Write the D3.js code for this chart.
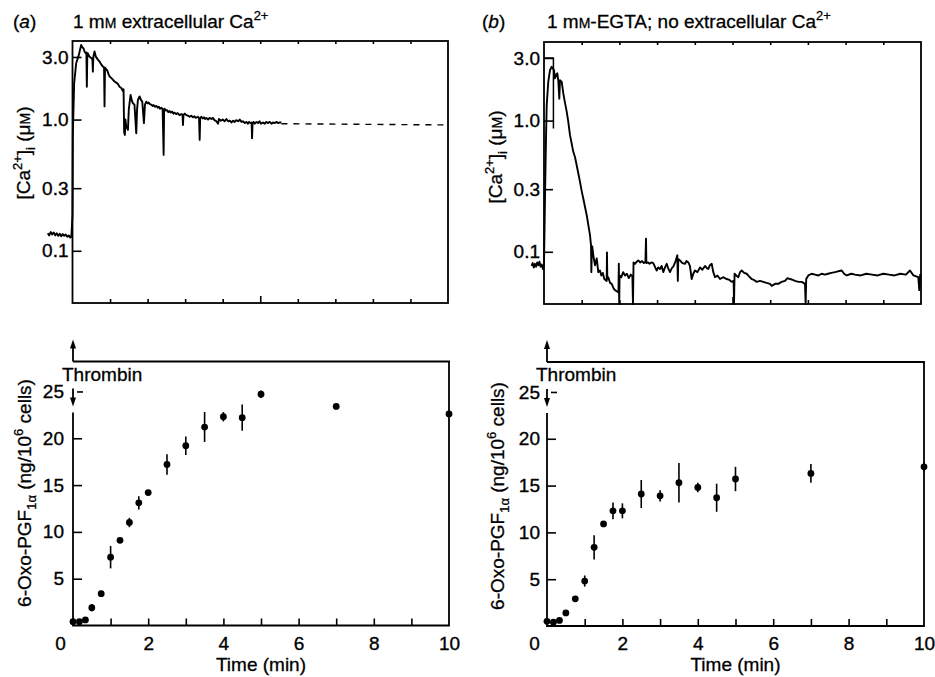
<!DOCTYPE html>
<html>
<head>
<meta charset="utf-8">
<title>Thrombin: [Ca2+]i and 6-oxo-PGF1a</title>
<script src="https://cdn.jsdelivr.net/npm/d3@7"></script>
<style>
  body { margin: 0; background: #fff; }
  svg { font-family: "Liberation Sans", Arial, Helvetica, sans-serif; }
  .frame { fill: none; stroke: #000; stroke-width: 1.8; }
  .axis text { font-size: 19px; fill: #000; stroke: #000; stroke-width: 0.35px; }
  .axis line { stroke: #000; stroke-width: 1.6; }
  .trace { fill: none; stroke: #000; stroke-width: 1.9; stroke-linejoin: round; }
  .dash { fill: none; stroke: #000; stroke-width: 1.4; stroke-dasharray: 6 6; }
  .err { stroke: #000; stroke-width: 1.6; }
  .lbl { font-size: 19px; fill: #000; stroke: #000; stroke-width: 0.3px; }
</style>
</head>
<body>
<svg id="fig" width="935" height="677"></svg>
<script>
// sampling times (min) of the 6-oxo-PGF1a measurements
var TIME_MIN = [0, 0.17, 0.33, 0.5, 0.75, 1, 1.25, 1.5, 1.75, 2, 2.5, 3, 3.5, 4, 4.5, 5, 7, 10];

// (a) 1 mM extracellular Ca
var PGF_A = [0.4, 0.4, 0.6, 1.9, 3.4, 7.3, 9.1, 11.0, 13.1, 14.2, 17.2, 19.2, 21.2, 22.3, 22.2, 24.7, 23.4, 22.6];
var ERR_A = [0, 0, 0, 0.4, 0.3, 1.2, 0, 0.5, 0.7, 0.2, 1.1, 1.0, 1.6, 0.5, 1.4, 0.4, 0.2, 0.3];

// (b) 1 mM EGTA
var PGF_B = [0.5, 0.4, 0.6, 1.4, 2.9, 4.8, 8.4, 10.9, 12.3, 12.3, 14.1, 13.9, 15.3, 14.8, 13.7, 15.7, 16.3, 17.0];
var ERR_B = [0, 0, 0, 0.2, 0.3, 0.6, 1.3, 0.3, 0.9, 0.8, 1.5, 0.6, 2.1, 0.5, 1.5, 1.3, 1.0, 0.5];

// [Ca2+]i trace (a), [min, uM]
var CA_TRACE_A = [
  [-0.66,0.136],[-0.62,0.131],[-0.58,0.139],[-0.54,0.133],[-0.5,0.138],[-0.46,0.131],[-0.42,0.136],[-0.38,0.13],
  [-0.34,0.135],[-0.3,0.129],[-0.26,0.134],[-0.22,0.13],[-0.18,0.133],[-0.14,0.128],[-0.1,0.131],[-0.06,0.126],[-0.03,0.128],
  [0.0,0.19],[0.01,0.79],[0.044,1.89],[0.098,2.69],[0.169,3.11],[0.2,3.4],[0.231,3.71],[0.26,3.55],[0.293,3.5],
  [0.32,3.3],[0.347,3.21],[0.37,3.25],[0.382,1.78],[0.395,3.15],[0.409,3.2],[0.45,3.02],[0.498,2.94],[0.53,2.9],
  [0.542,2.32],[0.555,3.0],[0.587,3.3],[0.62,3.02],[0.649,2.94],[0.68,2.85],[0.72,2.77],[0.77,2.62],[0.809,2.53],
  [0.84,2.5],[0.853,1.26],[0.866,2.48],[0.88,2.46],[0.93,2.35],[0.96,2.22],[0.987,2.13],[1.05,2.05],[1.12,1.95],
  [1.2,1.88],[1.253,1.78],[1.3,1.74],[1.342,1.65],[1.36,1.7],[1.375,0.8],[1.395,0.764],[1.41,1.0],[1.431,0.885],
  [1.455,0.86],[1.476,0.835],[1.5,1.2],[1.547,1.54],[1.58,1.4],[1.609,1.33],[1.65,1.3],[1.698,0.787],[1.72,1.2],
  [1.742,1.41],[1.787,1.5],[1.82,1.42],[1.858,1.37],[1.902,0.94],[1.93,1.3],[1.964,1.37],[2.0,1.33],[2.03,1.35],
  [2.06,1.31],[2.098,1.3],[2.13,1.27],[2.16,1.29],[2.2,1.25],[2.231,1.27],[2.27,1.23],[2.3,1.25],[2.33,1.21],
  [2.364,1.23],[2.4,1.2],[2.427,0.538],[2.44,1.2],[2.453,1.21],[2.49,1.17],[2.52,1.18],[2.55,1.14],[2.587,1.16],
  [2.62,1.13],[2.65,1.15],[2.69,1.11],[2.72,1.13],[2.76,1.1],[2.8,1.12],[2.85,1.08],[2.898,1.1],[2.93,1.09],
  [2.942,0.91],[2.955,1.08],[2.99,1.11],[3.031,1.08],[3.08,1.07],[3.12,1.05],[3.16,1.07],[3.209,1.04],[3.25,1.06],
  [3.28,1.03],[3.342,1.05],[3.37,1.03],[3.387,0.7],[3.4,1.02],[3.431,1.05],[3.47,1.02],[3.5,1.04],[3.53,1.01],
  [3.564,1.03],[3.61,1.0],[3.65,1.03],[3.7,1.01],[3.742,1.03],[3.78,0.99],[3.831,0.97],[3.876,0.93],[3.9,1.01],
  [3.95,0.98],[4.0,1.0],[4.05,0.97],[4.098,1.01],[4.15,0.97],[4.19,0.98],[4.23,0.95],[4.276,0.98],[4.32,0.96],
  [4.36,0.99],[4.41,0.97],[4.453,1.0],[4.5,0.96],[4.54,0.97],[4.59,0.94],[4.631,0.96],[4.67,0.93],[4.7,0.96],
  [4.74,0.94],[4.77,0.95],[4.782,0.72],[4.795,0.93],[4.82,0.96],[4.853,0.93],[4.9,0.96],[4.942,0.94],[4.98,0.97],
  [5.02,0.93],[5.076,0.95],[5.12,0.93],[5.16,0.96],[5.2,0.94],[5.253,0.96],[5.3,0.93],[5.34,0.95],[5.39,0.94],
  [5.431,0.96],[5.48,0.94],[5.52,0.95],[5.564,0.95]
];
var CA_DASH_A = [[5.564, 0.93], [10, 0.91]];

// [Ca2+]i trace (b), [min, uM]
var CA_TRACE_B = [
  [-0.33,0.078],[-0.3,0.082],[-0.27,0.076],[-0.24,0.081],[-0.21,0.077],[-0.18,0.083],[-0.15,0.079],[-0.12,0.084],
  [-0.09,0.077],[-0.06,0.08],[-0.03,0.074],[0.0,0.08],[0.03,0.3],[0.053,0.73],[0.072,1.31],[0.114,1.98],[0.159,2.42],
  [0.204,2.57],[0.235,2.5],[0.265,2.42],[0.29,2.1],[0.318,2.22],[0.353,2.29],[0.38,2.0],[0.406,1.47],[0.424,2.03],
  [0.469,1.98],[0.512,1.61],[0.55,1.4],[0.602,1.17],[0.64,1.0],[0.69,0.774],[0.777,0.578],[0.82,0.53],[0.867,0.457],
  [0.955,0.341],[1.0,0.29],[1.042,0.255],[1.133,0.19],[1.22,0.134],[1.247,0.112],[1.256,0.07],[1.265,0.0914],
  [1.28,0.11],[1.308,0.094],[1.353,0.079],[1.398,0.089],[1.44,0.07],[1.485,0.072],[1.52,0.066],[1.56,0.069],
  [1.6,0.062],[1.663,0.06],[1.67,0.099],[1.68,0.062],[1.706,0.064],[1.75,0.058],[1.796,0.057],[1.84,0.053],
  [1.883,0.051],[1.93,0.05],[1.975,0.049],[1.985,0.081],[1.995,0.04],[2.005,0.066],[2.05,0.064],[2.1,0.07],
  [2.15,0.066],[2.2,0.068],[2.25,0.063],[2.3,0.067],[2.345,0.065],[2.36,0.04],[2.375,0.083],[2.414,0.081],
  [2.46,0.084],[2.501,0.086],[2.55,0.083],[2.6,0.085],[2.65,0.082],[2.69,0.084],[2.706,0.126],[2.715,0.082],
  [2.76,0.083],[2.8,0.081],[2.85,0.083],[2.899,0.082],[2.95,0.076],[2.989,0.072],[3.03,0.076],[3.077,0.074],
  [3.12,0.078],[3.164,0.07],[3.21,0.076],[3.255,0.081],[3.3,0.074],[3.342,0.07],[3.39,0.075],[3.43,0.077],
  [3.49,0.085],[3.536,0.094],[3.55,0.06],[3.562,0.088],[3.607,0.086],[3.67,0.082],[3.74,0.081],[3.78,0.085],
  [3.828,0.083],[3.87,0.078],[3.918,0.062],[3.96,0.068],[4.005,0.072],[4.07,0.07],[4.138,0.076],[4.2,0.073],
  [4.271,0.078],[4.32,0.075],[4.358,0.074],[4.4,0.079],[4.448,0.081],[4.49,0.07],[4.536,0.064],[4.6,0.066],
  [4.668,0.062],[4.75,0.064],[4.846,0.062],[4.92,0.061],[4.979,0.059],[5.03,0.06],[5.04,0.04],[5.055,0.068],
  [5.1,0.066],[5.154,0.064],[5.2,0.07],[5.244,0.072],[5.31,0.069],[5.377,0.068],[5.44,0.065],[5.509,0.062],
  [5.57,0.061],[5.642,0.059],[5.73,0.06],[5.817,0.059],[5.9,0.058],[5.995,0.057],[6.04,0.055],[6.13,0.057],
  [6.215,0.057],[6.3,0.059],[6.393,0.06],[6.46,0.063],[6.525,0.062],[6.6,0.061],[6.658,0.06],[6.75,0.059],
  [6.836,0.059],[6.923,0.057],[6.94,0.04],[6.955,0.062],[7.011,0.066],[7.1,0.068],[7.188,0.067],[7.28,0.066],
  [7.366,0.068],[7.45,0.067],[7.533,0.068],[7.62,0.069],[7.719,0.07],[7.8,0.071],[7.897,0.072],[7.96,0.068],
  [8.029,0.066],[8.15,0.068],[8.25,0.067],[8.4,0.066],[8.55,0.068],[8.7,0.067],[8.85,0.066],[9.0,0.068],
  [9.15,0.067],[9.3,0.066],[9.45,0.068],[9.6,0.067],[9.708,0.072],[9.8,0.066],[9.928,0.064],[9.955,0.051],
  [9.98,0.067],[10.0,0.066]
];
// saturation bracket drawn at the start of trace (b)
var CA_BRACKET_B = [[0, 3.0], [0.25, 3.0], [0.25, 0.87]];

// tick values
var CA_TICKS = [3.0, 1.0, 0.3, 0.1];
var PGF_TICKS = [5, 10, 15, 20, 25];
var TIME_TICKS = [0, 2, 4, 6, 8, 10];
var TIME_MINOR = [1, 2, 3, 4, 5, 6, 7, 8, 9];

var FIG_SVG = d3.select("#fig");

//append text built from pieces: normal, sup, sub, small caps, italic
function richText(x, y, parts, anchor, rotate) {
  var t = FIG_SVG.append("text").attr("class", "lbl")
    .attr("text-anchor", anchor || "start");
  if (rotate) {
    t.attr("transform", "translate(" + x + "," + y + ") rotate(-90)");
  } else {
    t.attr("x", x).attr("y", y);
  }
  var shift = 0;
  parts.forEach(function(p) {
    var s = t.append("tspan").text(p[0]);
    var want = 0;
    if (p[1] == "sup") { want = -8; s.style("font-size", "13px"); }
    if (p[1] == "sub") { want = 5; s.style("font-size", "13px"); }
    if (p[1] == "sc") { s.style("font-size", "14px"); }
    if (p[1] == "it") { s.style("font-style", "italic"); }
    if (want != shift) {
      s.attr("dy", want - shift);
      shift = want;
    }
  });
  return t;
}

//clean up a d3 axis group so css styles apply
function styleAxis(g) {
  g.attr("font-size", null).attr("font-family", null).classed("axis", true);
  g.select(".domain").remove();
}

//draw one [Ca2+]i panel
function drawCaPanel(p, trace, dash, bracket) {
  var x = d3.scaleLinear().domain([0, 10]).range([p.left, p.right]);
  var y = d3.scaleLog().domain([0.04, 3.97]).range([p.bottom, p.top]);
  var line = d3.line().x(d => x(d[0])).y(d => y(d[1]));

  FIG_SVG.append("rect").attr("class", "frame")
    .attr("x", p.left).attr("y", p.top)
    .attr("width", p.right - p.left).attr("height", p.bottom - p.top);

  var yAxis = d3.axisLeft(y).tickValues(CA_TICKS)
    .tickFormat(d3.format(".1f")).tickSizeInner(-9).tickSizeOuter(0).tickPadding(4);
  FIG_SVG.append("g").attr("transform", "translate(" + p.left + ",0)")
    .call(yAxis).call(styleAxis);

  var xBottom = d3.axisBottom(x).tickValues(TIME_MINOR)
    .tickFormat("").tickSizeInner(-4).tickSizeOuter(0);
  FIG_SVG.append("g").attr("transform", "translate(0," + p.bottom + ")")
    .call(xBottom).call(styleAxis)
    .selectAll(".tick line").attr("y2", d => d == 5 ? -7 : -4);

  var xTop = d3.axisTop(x).tickValues(TIME_MINOR)
    .tickFormat("").tickSizeInner(-3).tickSizeOuter(0);
  FIG_SVG.append("g").attr("transform", "translate(0," + p.top + ")")
    .call(xTop).call(styleAxis);

  FIG_SVG.append("path").datum(trace).attr("class", "trace").attr("d", line);
  if (dash) FIG_SVG.append("path").datum(dash).attr("class", "dash").attr("d", line);
  if (bracket) FIG_SVG.append("path").datum(bracket).attr("class", "trace")
    .style("stroke-width", 1.5).attr("d", line);
}

//draw one 6-oxo-PGF1a panel
function drawPgfPanel(p, vals, errs) {
  var x = d3.scaleLinear().domain([0, 10]).range([p.left, p.right]);
  var y = d3.scaleLinear().domain([0, 28.2]).range([p.bottom, p.top]);

  // frame: top, right, bottom, lower part of the left axis
  var path = d3.path();
  path.moveTo(p.left, p.top); path.lineTo(p.right, p.top);
  path.lineTo(p.right, p.bottom); path.lineTo(p.left, p.bottom);
  path.lineTo(p.left, p.top + 51);
  // thrombin arrows
  path.moveTo(p.left, p.top); path.lineTo(p.left, p.top - 16);
  path.moveTo(p.left, p.top + 27); path.lineTo(p.left, p.top + 39);
  FIG_SVG.append("path").attr("class", "frame").attr("d", path.toString());
  FIG_SVG.append("path").attr("fill", "#000")
    .attr("d", "M" + (p.left - 3) + "," + (p.top - 13) + "L" + p.left + "," + (p.top - 22) +
      "L" + (p.left + 3) + "," + (p.top - 13) + "Z");
  FIG_SVG.append("path").attr("fill", "#000")
    .attr("d", "M" + (p.left - 3) + "," + (p.top + 36) + "L" + p.left + "," + (p.top + 45) +
      "L" + (p.left + 3) + "," + (p.top + 36) + "Z");
  FIG_SVG.append("text").attr("class", "lbl")
    .attr("x", p.left - 11).attr("y", p.top + 19).text("Thrombin");

  var yAxis = d3.axisLeft(y).tickValues(PGF_TICKS)
    .tickSizeInner(-9).tickSizeOuter(0).tickPadding(p.pad);
  var gy = FIG_SVG.append("g").attr("transform", "translate(" + p.left + ",0)")
    .call(yAxis).call(styleAxis);
  gy.selectAll(".tick line").filter(d => d == 25).attr("x1", 4).attr("x2", 10);

  var xMinor = d3.axisBottom(x).tickValues(TIME_MINOR)
    .tickFormat("").tickSizeInner(-7).tickSizeOuter(0);
  FIG_SVG.append("g").attr("transform", "translate(0," + p.bottom + ")")
    .call(xMinor).call(styleAxis);
  var xAxis = d3.axisBottom(x).tickValues(TIME_TICKS)
    .tickSizeInner(0).tickSizeOuter(0).tickPadding(11);
  var gx = FIG_SVG.append("g").attr("transform", "translate(0," + p.bottom + ")")
    .call(xAxis).call(styleAxis);
  gx.selectAll(".tick text").filter(d => d == 0).attr("dx", -13);

  var pts = TIME_MIN.map(function(t, i) { return { t: t, v: vals[i], e: errs[i] }; });

  FIG_SVG.append("g").selectAll("line")
    .data(pts.filter(d => d.e > 0))
    .enter()
    .append("line")
    .attr("class", "err")
    .attr("x1", d => x(d.t)).attr("x2", d => x(d.t))
    .attr("y1", d => y(d.v - d.e)).attr("y2", d => y(d.v + d.e));

  FIG_SVG.append("g").selectAll("circle")
    .data(pts)
    .enter()
    .append("circle")
    .attr("cx", d => x(d.t))
    .attr("cy", d => y(d.v))
    .attr("r", 3.4)
    .style("fill", "#000");

  richText((p.left + p.right) / 2, 671, [["Time (min)", ""]], "middle");
}

drawCaPanel({ left: 72.5, right: 448, top: 41, bottom: 303 }, CA_TRACE_A, CA_DASH_A, null);
drawCaPanel({ left: 544, right: 921, top: 42, bottom: 304 }, CA_TRACE_B, null, CA_BRACKET_B);
drawPgfPanel({ left: 73, right: 449, top: 361.5, bottom: 625.5, pad: 9 }, PGF_A, ERR_A);
drawPgfPanel({ left: 547, right: 924, top: 362, bottom: 626, pad: 7 }, PGF_B, ERR_B);

//titles
richText(13, 28, [["(", ""], ["a", "it"], [")", ""]]);
richText(73, 28, [["1 m", ""], ["M", "sc"], [" extracellular Ca", ""], ["2+", "sup"]]);
richText(482, 28, [["(", ""], ["b", "it"], [")", ""]]);
richText(547, 28, [["1 m", ""], ["M", "sc"], ["-EGTA; no extracellular Ca", ""], ["2+", "sup"]]);

//y labels
var caLabel = [["[Ca", ""], ["2+", "sup"], ["]", ""], ["i", "sub"], [" (\u03bc", ""], ["M", "sc"], [")", ""]];
var pgfLabel = [["6-Oxo-PGF", ""], ["1\u03b1", "sub"], [" (ng/10", ""], ["6", "sup"], [" cells)", ""]];
richText(30, 153, caLabel, "middle", true);
richText(502, 157, caLabel, "middle", true);
richText(31, 493, pgfLabel, "middle", true);
richText(504, 496, pgfLabel, "middle", true);
</script>
</body>
</html>
